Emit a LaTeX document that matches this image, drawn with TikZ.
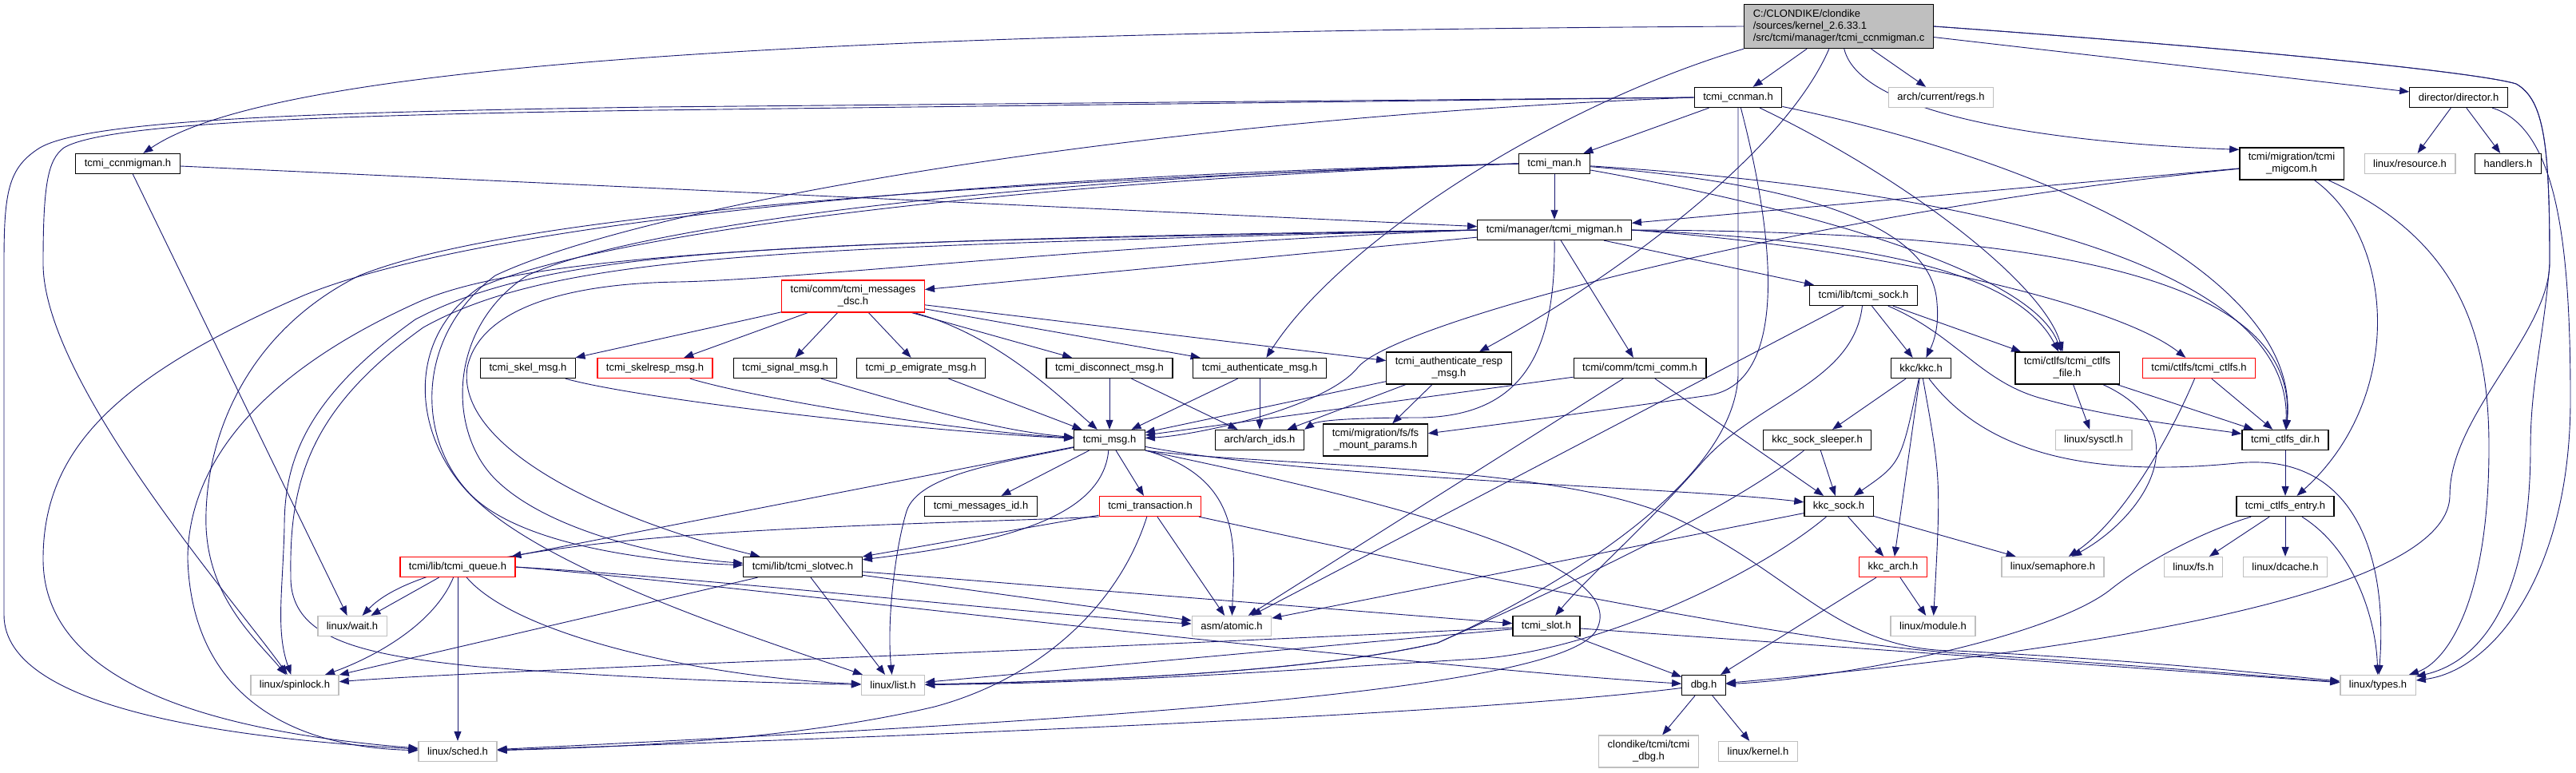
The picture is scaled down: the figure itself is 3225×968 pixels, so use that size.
\documentclass[tikz,border=0pt]{standalone}
\usepackage{fontspec}
\setmainfont{Liberation Sans}
\usetikzlibrary{arrows.meta,backgrounds}
\definecolor{edgeblue}{HTML}{191970}
\definecolor{sysgray}{HTML}{BFBFBF}
\begin{document}
\begin{tikzpicture}[x=1pt,y=-1pt,
  file/.style={draw=black,fill=white,line width=1.3pt,font=\fontsize{13}{15}\selectfont,
    inner xsep=11pt,inner ysep=0pt,minimum height=25pt,align=center},
  redfile/.style={file,draw=red},
  sysfile/.style={file,draw=sysgray},
  twoline/.style={minimum height=40pt},
  rootfile/.style={file,fill=sysgray,align=left,minimum height=55pt},
  inc/.style={draw=edgeblue,line width=0.9pt,-{Triangle[length=12pt,width=9pt]}}]
\useasboundingbox (0,0) rectangle (3225,968);

\node[rootfile] (root) at (2302,33) {C:/CLONDIKE/clondike\\/sources/kernel\_2.6.33.1\\/src/tcmi/manager/tcmi\_ccnmigman.c};
\node[file] (ccnmigman) at (160,205) {tcmi\_ccnmigman.h};
\node[file] (ccnman) at (2176,122) {tcmi\_ccnman.h};
\node[sysfile] (regs) at (2430,122) {arch/current/regs.h};
\node[file] (director) at (3078,122) {director/director.h};
\node[file,twoline] (migcom) at (2869,205) {tcmi/migration/tcmi\\\_migcom.h};
\node[sysfile] (resource) at (3017,205) {linux/resource.h};
\node[file] (handlers) at (3140,205) {handlers.h};
\node[file] (man) at (1946,205) {tcmi\_man.h};
\node[file] (migman) at (1946,288) {tcmi/manager/tcmi\_migman.h};
\node[redfile,twoline] (dsc) at (1068,371) {tcmi/comm/tcmi\_messages\\\_dsc.h};
\node[file] (sock) at (2333,370) {tcmi/lib/tcmi\_sock.h};
\node[file] (skel) at (661,461) {tcmi\_skel\_msg.h};
\node[redfile] (skelresp) at (820,461) {tcmi\_skelresp\_msg.h};
\node[file] (signal) at (983,461) {tcmi\_signal\_msg.h};
\node[file] (pemig) at (1153,461) {tcmi\_p\_emigrate\_msg.h};
\node[file] (disconn) at (1389,461) {tcmi\_disconnect\_msg.h};
\node[file] (authmsg) at (1577,461) {tcmi\_authenticate\_msg.h};
\node[file,twoline] (authresp) at (1814,461) {tcmi\_authenticate\_resp\\\_msg.h};
\node[file] (comm) at (2053,461) {tcmi/comm/tcmi\_comm.h};
\node[file] (kkc) at (2405,461) {kkc/kkc.h};
\node[file,twoline] (ctlfsfile) at (2588,461) {tcmi/ctlfs/tcmi\_ctlfs\\\_file.h};
\node[redfile] (ctlfs) at (2753,461) {tcmi/ctlfs/tcmi\_ctlfs.h};
\node[file] (archids) at (1577,551) {arch/arch\_ids.h};
\node[file,twoline] (fsmount) at (1722,551) {tcmi/migration/fs/fs\\\_mount\_params.h};
\node[file] (msg) at (1389,551) {tcmi\_msg.h};
\node[file] (sleeper) at (2275,551) {kkc\_sock\_sleeper.h};
\node[file] (ctlfsdir) at (2861,551) {tcmi\_ctlfs\_dir.h};
\node[sysfile] (sysctl) at (2621,551) {linux/sysctl.h};
\node[file] (msgid) at (1228,634) {tcmi\_messages\_id.h};
\node[redfile] (trans) at (1440,634) {tcmi\_transaction.h};
\node[file] (kkcsock) at (2302,634) {kkc\_sock.h};
\node[file] (ctlfsentry) at (2861,634) {tcmi\_ctlfs\_entry.h};
\node[redfile] (queue) at (573,710) {tcmi/lib/tcmi\_queue.h};
\node[file] (slotvec) at (1005,710) {tcmi/lib/tcmi\_slotvec.h};
\node[redfile] (kkcarch) at (2370,710) {kkc\_arch.h};
\node[sysfile] (semaphore) at (2570,710) {linux/semaphore.h};
\node[sysfile] (lfs) at (2746,710) {linux/fs.h};
\node[sysfile] (dcache) at (2861,710) {linux/dcache.h};
\node[sysfile] (wait) at (441,784) {linux/wait.h};
\node[sysfile] (atomic) at (1542,784) {asm/atomic.h};
\node[file] (slot) at (1936,784) {tcmi\_slot.h};
\node[sysfile] (module) at (2420,784) {linux/module.h};
\node[sysfile] (spinlock) at (369,858) {linux/spinlock.h};
\node[sysfile] (list) at (1118,858) {linux/list.h};
\node[file] (dbg) at (2133,858) {dbg.h};
\node[sysfile] (types) at (2977,858) {linux/types.h};
\node[sysfile] (sched) at (573,941) {linux/sched.h};
\node[sysfile,twoline] (tcmidbg) at (2064,941) {clondike/tcmi/tcmi\\\_dbg.h};
\node[sysfile] (kernel) at (2201,941) {linux/kernel.h};

\begin{pgfonlayer}{background}
\fill[white] (0,0) rectangle (3225,968);
\foreach \src/\dst in {root/ccnman, root/regs, root/director, ccnmigman/migman, ccnmigman/wait,
    ccnman/man, man/migman, migcom/migman, migman/dsc, migman/sock, migman/comm,
    director/resource, director/handlers,
    dsc/skel, dsc/skelresp, dsc/signal, dsc/pemig, dsc/disconn, dsc/authmsg, dsc/authresp,
    pemig/msg, disconn/msg, disconn/archids, authmsg/msg, authmsg/archids,
    authresp/msg, authresp/archids, authresp/fsmount, comm/msg, comm/atomic, comm/kkcsock,
    sock/kkc, sock/ctlfsfile, sock/atomic, kkc/sleeper, kkc/kkcarch, sleeper/kkcsock,
    kkcsock/kkcarch, kkcsock/semaphore, kkcsock/atomic, kkcarch/dbg, kkcarch/module,
    ctlfsfile/sysctl, ctlfsfile/ctlfsdir, ctlfs/ctlfsdir, ctlfsdir/ctlfsentry,
    ctlfsentry/lfs, ctlfsentry/dcache, msg/msgid, msg/trans, msg/queue,
    trans/slotvec, trans/atomic, queue/wait, queue/sched,
    slotvec/list, slotvec/atomic, slotvec/spinlock, slotvec/slot,
    slot/dbg, slot/list, slot/types, dbg/tcmidbg, dbg/kernel}
  \draw[inc] (\src) -- (\dst);

\draw[inc] (root.west) .. controls (900,40) and (330,90) .. (ccnmigman);
\draw[inc] (root) .. controls (2330,150) and (2600,180) .. (migcom.165);
\draw[inc] (root.east) .. controls (2800,60) and (3100,90) .. (3150,105)
  .. controls (3185,125) and (3192,180) .. (3192,330)
  .. controls (3190,420) and (3067,520) .. (3067,620) .. controls (3067,760) and (2500,825) .. (dbg);
\draw[inc] (root.east) .. controls (2800,60) and (3100,90) .. (3150,105)
  .. controls (3185,125) and (3192,180) .. (3192,330)
  .. controls (3185,420) and (3168,480) .. (3168,560) .. controls (3168,760) and (3100,830) .. (types);
\draw[inc] (root.south west) .. controls (1950,130) and (1680,300) .. (authmsg);
\draw[inc] (root) .. controls (2230,200) and (2000,360) .. (authresp);

\draw[inc] (ccnman) .. controls (2400,230) and (2560,360) .. (ctlfsfile);
\draw[inc] (ccnman) .. controls (2600,210) and (2880,360) .. (ctlfsdir);
\draw[inc] (ccnman.south) -- (2176,470) .. controls (2170,620) and (1900,760) .. (1800,805)
  .. controls (1650,840) and (1400,852) .. (list);
\draw[inc] (ccnman) .. controls (2230,330) and (2230,480) .. (2140,495)
  .. controls (2000,515) and (1850,535) .. (fsmount);
\draw[inc] (ccnman.west) -- (820,134) .. controls (400,140) and (110,150) .. (50,185)
  .. controls (10,210) and (5,240) .. (5,330)
  -- (5,770) .. controls (5,890) and (300,925) .. (sched);
\draw[inc] (ccnman.west) -- (820,138) .. controls (400,144) and (130,155) .. (80,185)
  .. controls (60,200) and (54,230) .. (54,330)
  .. controls (54,480) and (300,760) .. (spinlock);
\draw[inc] (ccnman.west) .. controls (1400,150) and (800,260) .. (620,345)
  .. controls (520,420) and (520,550) .. (590,620) .. controls (660,690) and (850,705) .. (slotvec);

\draw[inc] (man.west) .. controls (1200,220) and (600,280) .. (380,370)
  .. controls (150,470) and (54,560) .. (54,700) .. controls (54,850) and (250,915) .. (sched);
\draw[inc] (man.west) .. controls (1000,235) and (600,285) .. (450,345)
  .. controls (300,420) and (255,560) .. (258,660) .. controls (262,750) and (320,800) .. (spinlock);
\draw[inc] (man.west) .. controls (1300,220) and (800,280) .. (660,345)
  .. controls (560,410) and (560,540) .. (620,600) .. controls (690,670) and (850,700) .. (slotvec);
\draw[inc] (man.west) .. controls (1300,225) and (760,290) .. (600,360)
  .. controls (500,430) and (520,560) .. (600,630) .. controls (700,720) and (950,800) .. (list);
\draw[inc] (man) .. controls (2200,250) and (2540,330) .. (ctlfsfile);
\draw[inc] (man) .. controls (2500,240) and (2870,340) .. (ctlfsdir);
\draw[inc] (man) .. controls (2250,230) and (2420,280) .. (2425,380)
  .. controls (2428,410) and (2420,430) .. (kkc);

\draw[inc] (migman.west) .. controls (1000,300) and (650,320) .. (520,380)
  .. controls (300,480) and (235,600) .. (235,700) .. controls (240,860) and (350,935) .. (sched);
\draw[inc] (migman.west) .. controls (1000,305) and (700,305) .. (520,400)
  .. controls (380,500) and (356,580) .. (356,660) .. controls (354,740) and (345,790) .. (spinlock);
\draw[inc] (migman.west) .. controls (1000,310) and (700,315) .. (530,410)
  .. controls (390,510) and (362,600) .. (364,720) .. controls (362,800) and (450,820) .. (600,835)
  .. controls (800,850) and (950,855) .. (list);
\draw[inc] (migman.west) .. controls (1400,305) and (1000,350) .. (850,353)
  .. controls (700,355) and (600,390) .. (585,460) .. controls (570,560) and (760,650) .. (slotvec);
\draw[inc] (migman.south) .. controls (1948,450) and (1900,520) .. (1780,523)
  .. controls (1700,523) and (1650,526) .. (archids.north east);
\draw[inc] (migman.east) .. controls (2300,300) and (2520,330) .. (ctlfsfile);
\draw[inc] (migman.east) .. controls (2350,310) and (2650,380) .. (ctlfs);
\draw[inc] (migman.east) .. controls (2500,290) and (2880,330) .. (ctlfsdir);

\draw[inc] (migcom) .. controls (2300,260) and (1750,400) .. (1700,460)
  .. controls (1660,510) and (1500,545) .. (msg);
\draw[inc] (migcom) .. controls (3000,300) and (3010,500) .. (ctlfsentry);
\draw[inc] (migcom) .. controls (3080,300) and (3116,420) .. (3116,560)
  .. controls (3116,760) and (3060,830) .. (types);
\draw[inc] (director) .. controls (3200,160) and (3218,300) .. (3218,500)
  .. controls (3218,720) and (3120,840) .. (types);

\draw[inc] (sock) .. controls (2450,420) and (2480,480) .. (2560,500)
  .. controls (2650,525) and (2750,535) .. (ctlfsdir);
\draw[inc] (sock) .. controls (2320,480) and (2200,500) .. (2130,580)
  .. controls (2060,660) and (1990,720) .. (slot);
\draw[inc] (kkc) .. controls (2380,580) .. (kkcsock);
\draw[inc] (kkc) .. controls (2430,600) .. (module);
\draw[inc] (kkc) .. controls (2480,560) and (2600,600) .. (2800,580)
  .. controls (2950,565) and (2990,700) .. (types);
\draw[inc] (sleeper) .. controls (2150,650) and (1900,760) .. (1800,805)
  .. controls (1650,840) and (1400,852) .. (list);
\draw[inc] (kkcsock) .. controls (2200,720) and (2000,815) .. (1850,825)
  .. controls (1600,840) and (1400,855) .. (list);

\draw[inc] (dsc) .. controls (1250,420) and (1330,500) .. (msg);
\draw[inc] (skel) .. controls (800,500) and (1150,540) .. (msg);
\draw[inc] (skelresp) .. controls (950,500) and (1200,540) .. (msg);
\draw[inc] (signal) .. controls (1150,510) and (1250,540) .. (msg);

\draw[inc] (msg) .. controls (1250,580) and (1150,595) .. (1135,640)
  .. controls (1120,690) and (1110,780) .. (list);
\draw[inc] (msg) .. controls (1380,650) and (1250,680) .. (slotvec);
\draw[inc] (msg) .. controls (1560,600) and (1545,690) .. (atomic);
\draw[inc] (msg) .. controls (1650,600) and (2100,610) .. (kkcsock);
\draw[inc] (msg.south east) .. controls (1600,585) and (1950,580) .. (2100,650)
  .. controls (2250,720) and (2300,815) .. (2450,815) .. controls (2700,828) and (2850,845) .. (types);
\draw[inc] (msg.south east) .. controls (1700,620) and (2050,700) .. (1998,790)
  .. controls (1950,870) and (1300,905) .. (sched);

\draw[inc] (trans.south west) .. controls (1100,660) and (560,660) .. (wait);
\draw[inc] (trans) .. controls (1400,760) and (1300,850) .. (1170,885)
  .. controls (1000,925) and (800,935) .. (sched);
\draw[inc] (trans) .. controls (1700,690) and (2200,800) .. (2450,818)
  .. controls (2700,835) and (2850,848) .. (types);

\draw[inc] (queue) .. controls (540,790) and (450,830) .. (spinlock);
\draw[inc] (queue) .. controls (650,800) and (900,850) .. (list);
\draw[inc] (queue.east) .. controls (900,725) and (1300,770) .. (atomic);
\draw[inc] (queue.east) .. controls (900,730) and (1700,830) .. (dbg);

\draw[inc] (slot) .. controls (1200,820) and (600,840) .. (spinlock);
\draw[inc] (dbg) .. controls (1800,900) and (900,930) .. (sched);

\draw[inc] (ctlfsfile) .. controls (2760,540) and (2680,650) .. (semaphore);
\draw[inc] (ctlfs) .. controls (2720,540) and (2660,650) .. (semaphore);
\draw[inc] (ctlfsentry) .. controls (2950,690) and (2975,780) .. (types);
\draw[inc] (ctlfsentry) .. controls (2760,665) and (2690,700) .. (2640,740)
  .. controls (2560,800) and (2300,850) .. (dbg);
\end{pgfonlayer}
\end{tikzpicture}
\end{document}
